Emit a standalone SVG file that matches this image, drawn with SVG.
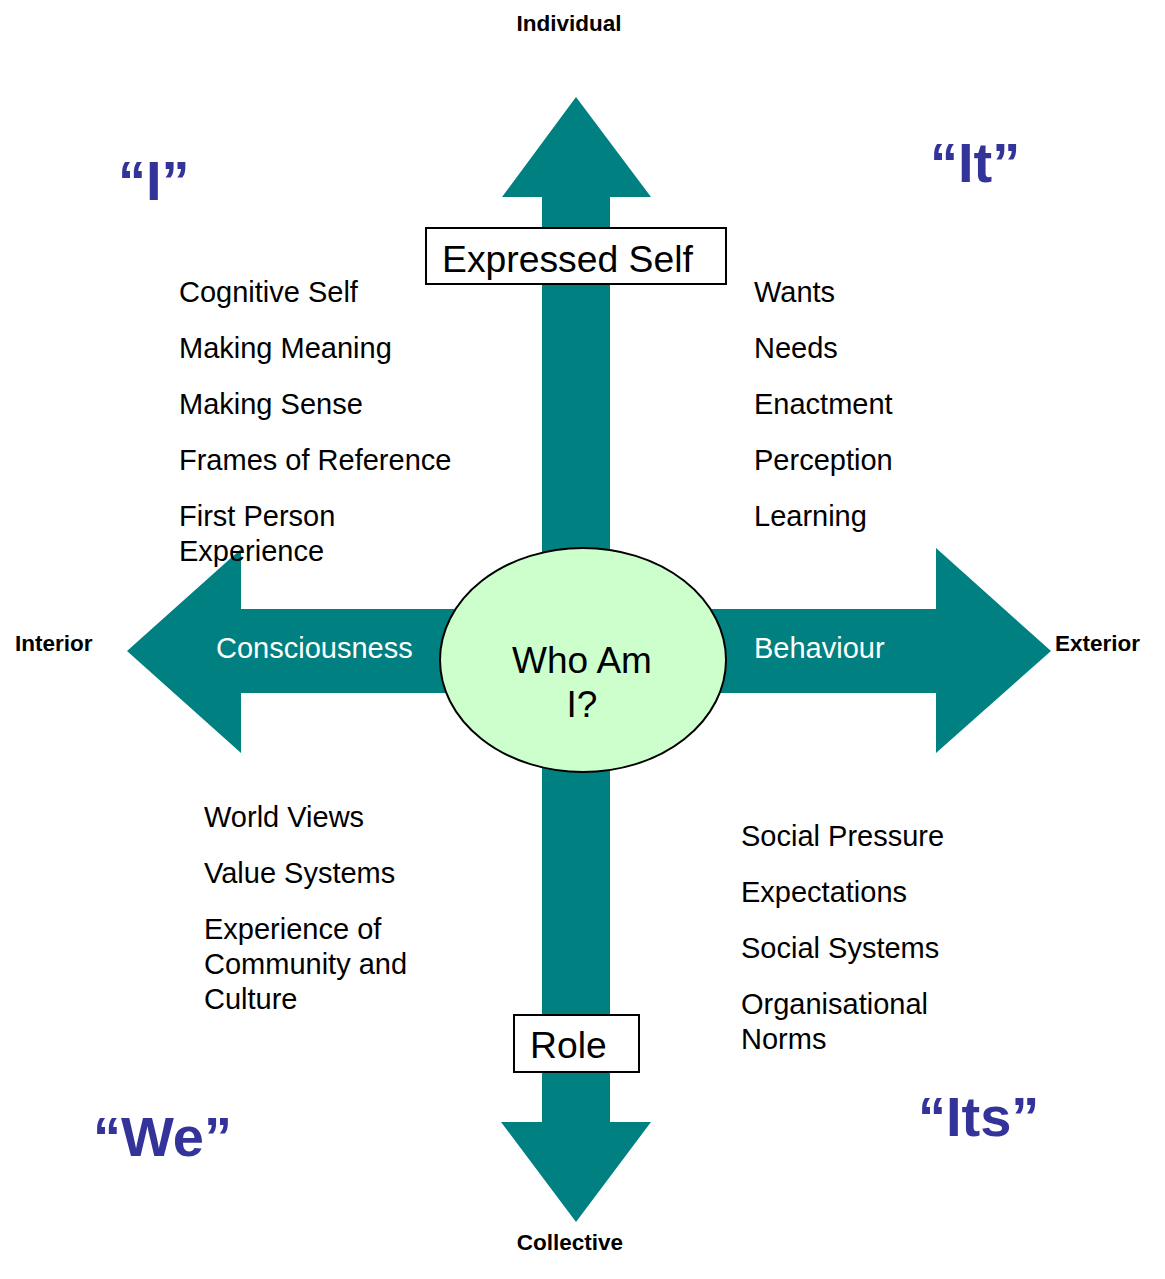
<svg xmlns="http://www.w3.org/2000/svg" width="1165" height="1279" viewBox="0 0 1165 1279">
<style>
.arrow{fill:#008080}
.t{font-family:"Liberation Sans",Arial,sans-serif;font-size:29px;fill:#000}
.w{font-family:"Liberation Sans",Arial,sans-serif;font-size:29px;fill:#fff}
.ax{font-family:"Liberation Sans",Arial,sans-serif;font-size:22.5px;font-weight:bold;fill:#000}
.q{font-family:"Liberation Sans",Arial,sans-serif;font-size:56px;font-weight:bold;fill:#333399}
.box{fill:#fff;stroke:#000;stroke-width:2}
.big{font-family:"Liberation Sans",Arial,sans-serif;font-size:37.3px;fill:#000}
.who{font-family:"Liberation Sans",Arial,sans-serif;font-size:37px;fill:#000}
</style>
<rect width="1165" height="1279" fill="#fff"/>
<g id="connectors">
<polygon class="arrow" points="576,97 651,197 610,197 610,660 542,660 542,197 502,197"/>
<polygon class="arrow" points="542,660 610,660 610,1122 651,1122 576,1222 501,1122 542,1122"/>
<polygon class="arrow" points="127,651 241,549 241,609 583,609 583,693 241,693 241,753"/>
<polygon class="arrow" points="1051,651 936,548 936,609 583,609 583,693 936,693 936,753"/>
</g>
<g id="center">
<ellipse cx="583" cy="660" rx="143" ry="112" fill="#CCFFCC" stroke="#000" stroke-width="2"/>
<text class="who" x="582" y="673" text-anchor="middle">Who Am</text>
<text class="who" x="582" y="717" text-anchor="middle">I?</text>
</g>
<g id="expressed-self">
<rect class="box" x="426" y="228" width="300" height="56"/>
<text class="big" x="442" y="272">Expressed Self</text>
</g>
<g id="role">
<rect class="box" x="514" y="1015" width="125" height="57"/>
<text class="big" x="530" y="1058">Role</text>
</g>
<g id="arrow-labels">
<text class="w" x="216" y="658">Consciousness</text>
<text class="w" x="754" y="658">Behaviour</text>
</g>
<g id="axis-labels">
<text class="ax" x="569" y="31" text-anchor="middle">Individual</text>
<text class="ax" x="570" y="1250" text-anchor="middle">Collective</text>
<text class="ax" x="15" y="651">Interior</text>
<text class="ax" x="1055" y="651">Exterior</text>
</g>
<g id="quadrant-I">
<text class="q" x="118" y="200">“I”</text>
<text class="t" x="179" y="302">Cognitive Self</text>
<text class="t" x="179" y="358">Making Meaning</text>
<text class="t" x="179" y="414">Making Sense</text>
<text class="t" x="179" y="470">Frames of Reference</text>
<text class="t" x="179" y="526">First Person</text>
<text class="t" x="179" y="561">Experience</text>
</g>
<g id="quadrant-It">
<text class="q" x="930" y="182">“It”</text>
<text class="t" x="754" y="302">Wants</text>
<text class="t" x="754" y="358">Needs</text>
<text class="t" x="754" y="414">Enactment</text>
<text class="t" x="754" y="470">Perception</text>
<text class="t" x="754" y="526">Learning</text>
</g>
<g id="quadrant-We">
<text class="q" x="93" y="1156">“We”</text>
<text class="t" x="204" y="827">World Views</text>
<text class="t" x="204" y="883">Value Systems</text>
<text class="t" x="204" y="939">Experience of</text>
<text class="t" x="204" y="974">Community and</text>
<text class="t" x="204" y="1009">Culture</text>
</g>
<g id="quadrant-Its">
<text class="q" x="918" y="1136">“Its”</text>
<text class="t" x="741" y="846">Social Pressure</text>
<text class="t" x="741" y="902">Expectations</text>
<text class="t" x="741" y="958">Social Systems</text>
<text class="t" x="741" y="1014">Organisational</text>
<text class="t" x="741" y="1049">Norms</text>
</g>
</svg>
